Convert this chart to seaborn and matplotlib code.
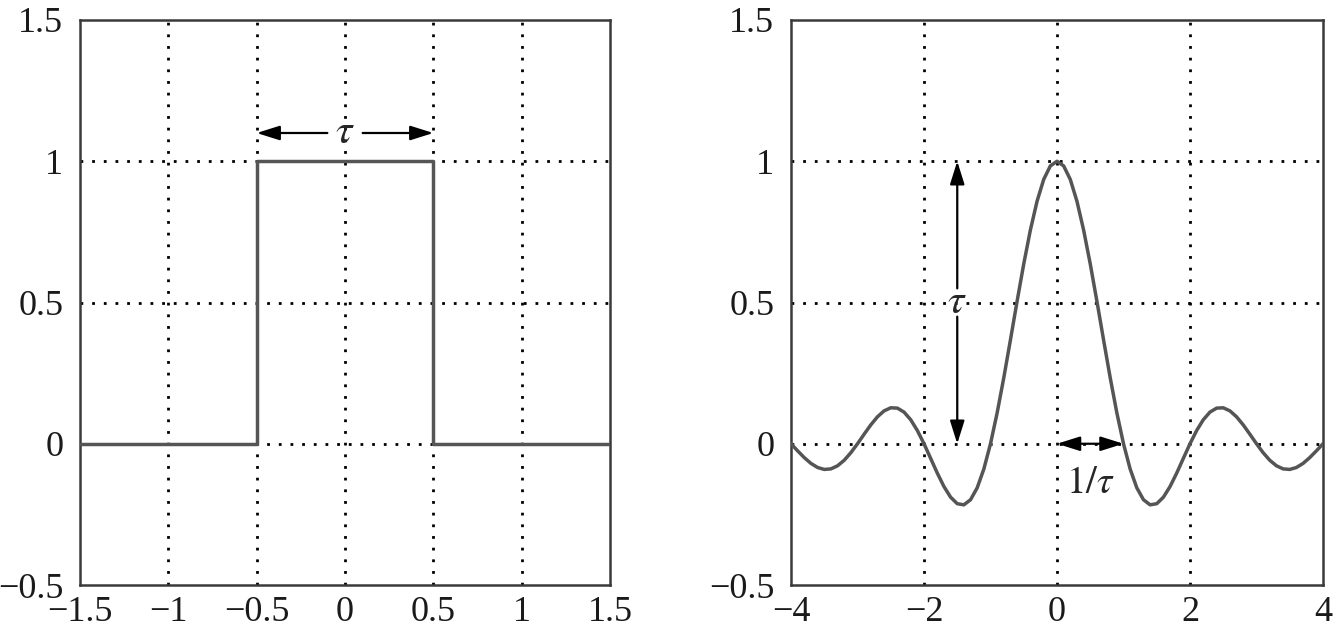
import matplotlib
matplotlib.use("Agg")
import matplotlib.pyplot as plt
import seaborn as sns
import pandas as pd

# rectangular pulse (left)
rect_x = [-1.5, -0.5, -0.5, 0.5, 0.5, 1.5]
rect_y = [0, 0, 1, 1, 0, 0]

# sinc spectrum (right), every 0.1
sinc_x = [round(-4 + 0.1 * i, 1) for i in range(81)]
half = [1.0, 0.9836, 0.9355, 0.8584, 0.7568, 0.6366, 0.5046, 0.3679, 0.2339, 0.1093,
        0.0, -0.0894, -0.1559, -0.1981, -0.2162, -0.2122, -0.1892, -0.1515, -0.1039, -0.0518,
        0.0, 0.0468, 0.0850, 0.1120, 0.1261, 0.1273, 0.1164, 0.0954, 0.0668, 0.0339,
        0.0, -0.0317, -0.0585, -0.0780, -0.0890, -0.0909, -0.0841, -0.0696, -0.0492, -0.0252,
        0.0]
sinc_y = half[::-1] + half[1:]

left_xticks = [-1.5, -1, -0.5, 0, 0.5, 1, 1.5]
left_xlabels = ["\u22121.5", "\u22121", "\u22120.5", "0", "0.5", "1", "1.5"]
right_xticks = [-4, -2, 0, 2, 4]
right_xlabels = ["\u22124", "\u22122", "0", "2", "4"]
yticks = [-0.5, 0, 0.5, 1, 1.5]
ylabels = ["\u22120.5", "0", "0.5", "1", "1.5"]

sns.set_theme(style="white")
plt.rcParams["font.family"] = ["Liberation Serif", "DejaVu Serif"]
plt.rcParams["mathtext.fontset"] = "stix"

curve_color = "#555555"
spine_color = "#3a3a3a"

fig = plt.figure(figsize=(13.36, 6.35), dpi=100)
ax1 = fig.add_axes([80 / 1336, 50 / 635, 530 / 1336, 565 / 635])
ax2 = fig.add_axes([791 / 1336, 50 / 635, 532 / 1336, 565 / 635])

df_rect = pd.DataFrame({"x": rect_x, "y": rect_y})
df_sinc = pd.DataFrame({"x": sinc_x, "y": sinc_y})

sns.lineplot(data=df_rect, x="x", y="y", ax=ax1, sort=False, estimator=None,
             color=curve_color, linewidth=2.5, zorder=3)
sns.lineplot(data=df_sinc, x="x", y="y", ax=ax2, sort=False, estimator=None,
             color=curve_color, linewidth=2.5, zorder=3)


def style_axes(ax, xlim, xticks, xlabels):
    ax.set_xlim(*xlim)
    ax.set_ylim(-0.5, 1.5)
    for gx in xticks[1:-1]:
        ax.axvline(gx, color="black", linewidth=2.0, linestyle=(0, (1, 3.2)),
                   dash_capstyle="butt", zorder=1)
    for gy in [0, 0.5, 1]:
        ax.axhline(gy, color="black", linewidth=2.0, linestyle=(0, (1, 3.2)),
                   dash_capstyle="butt", zorder=1)
    ax.set_xticks(xticks)
    ax.set_xticklabels(xlabels)
    ax.set_yticks(yticks)
    ax.set_yticklabels(ylabels)
    ax.tick_params(axis="both", length=0, labelsize=26, colors="#1a1a1a")
    ax.tick_params(axis="x", pad=8)
    ax.tick_params(axis="y", pad=12)
    ax.set_xlabel("")
    ax.set_ylabel("")
    for s in ax.spines.values():
        s.set_visible(True)
        s.set_color(spine_color)
        s.set_linewidth(1.8)


style_axes(ax1, (-1.5, 1.5), left_xticks, left_xlabels)
style_axes(ax2, (-4, 4), right_xticks, right_xlabels)

arrow = dict(arrowstyle="-|>,head_length=0.7,head_width=0.22", color="black",
             lw=1.6, mutation_scale=20, shrinkA=0, shrinkB=0)

# tau width arrows on the pulse
ax1.annotate("", xy=(-0.5, 1.1), xytext=(-0.1, 1.1), arrowprops=arrow)
ax1.annotate("", xy=(0.5, 1.1), xytext=(0.1, 1.1), arrowprops=arrow)
ax1.text(0, 1.1, r"$\tau$", ha="center", va="center", fontsize=30)

# height arrow on the spectrum
ax2.annotate("", xy=(-1.5, 1.0), xytext=(-1.5, 0.55), arrowprops=arrow)
ax2.annotate("", xy=(-1.5, 0.0), xytext=(-1.5, 0.45), arrowprops=arrow)
ax2.text(-1.5, 0.5, r"$\tau$", ha="center", va="center", fontsize=30)

# first-zero arrow
ax2.annotate("", xy=(0, 0), xytext=(1, 0),
             arrowprops=dict(arrowstyle="<|-|>,head_length=0.7,head_width=0.22",
                             color="black", lw=1.6, mutation_scale=20,
                             shrinkA=0, shrinkB=0))
ax2.text(0.5, -0.14, r"$1/\tau$", ha="center", va="center", fontsize=28)

fig.savefig("out.png", dpi=100)
